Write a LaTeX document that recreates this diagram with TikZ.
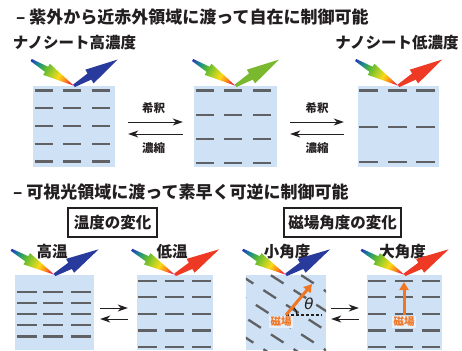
\documentclass[tikz,border=0pt]{standalone}
\usepackage{fontspec}
\setmainfont{Noto Sans CJK JP}
\newfontfamily\greekfont{DejaVu Sans}
\usetikzlibrary{arrows.meta,calc}

\definecolor{sheetbg}{RGB}{207,225,244}
\definecolor{sheet}{RGB}{96,97,100}
\definecolor{ink}{RGB}{35,31,32}
\definecolor{reflblue}{RGB}{40,58,155}
\definecolor{reflgreen}{RGB}{122,184,47}
\definecolor{reflred}{RGB}{238,58,36}
\definecolor{field}{RGB}{240,118,36}
\definecolor{labelbg}{RGB}{232,240,250}

% spectrum along the incoming light (tail = blue, tip = magenta)
\pgfdeclarehorizontalshading{spectrum}{100bp}{%
  rgb(0bp)=(0.16,0.22,0.72);
  rgb(25bp)=(0.16,0.22,0.72);
  rgb(33bp)=(0.10,0.55,0.55);
  rgb(41bp)=(0.35,0.72,0.20);
  rgb(50bp)=(0.70,0.82,0.15);
  rgb(57bp)=(0.98,0.85,0.10);
  rgb(64bp)=(1.00,0.55,0.10);
  rgb(70bp)=(0.95,0.20,0.20);
  rgb(75bp)=(0.90,0.20,0.80);
  rgb(100bp)=(0.90,0.20,0.80)}

\tikzset{
  sample/.style={fill=sheetbg, rectangle, inner sep=0pt},
  sheetline/.style={draw=sheet, line width=2.3pt},
  heading/.style={font=\fontsize{17}{20}\selectfont\bfseries, text=ink, inner sep=0pt},
  caption/.style={font=\fontsize{15.5}{18}\selectfont\bfseries, text=ink, inner sep=0pt},
  small/.style={font=\fontsize{11.5}{14}\selectfont\bfseries, text=ink, inner sep=0pt},
  framed/.style={draw=ink, line width=1.4pt, fill=white, inner sep=0pt,
    minimum height=29pt, font=\fontsize{15.5}{18}\selectfont\bfseries, text=ink},
  eqarrow/.style={draw=ink, line width=1pt, -{Stealth[length=10pt,width=7pt,inset=3pt]}},
  fieldarrow/.style={draw=field, line width=3pt, -{Triangle[length=8pt,width=9pt]}},
  fieldlabel/.style={font=\fontsize{10.5}{12}\selectfont\bfseries, text=field,
    fill=labelbg, inner sep=1.5pt},
}

% incoming white light, drawn along its own axis, tip at #1, heading #2 degrees
\newcommand\lightin[2]{%
  \begin{scope}[transform canvas={shift={(#1)}, rotate=#2}]
    \shade[shading=spectrum] (-50,1.2) -- (-32,3) -- (-32,6.5) -- (0,0)
      -- (-32,-6.5) -- (-32,-3) -- (-50,-1.2) -- cycle;
  \end{scope}}
% reflected light of colour #3 leaving #1 at #2 degrees
\newcommand\lightout[3]{%
  \begin{scope}[transform canvas={shift={(#1)}, rotate=#2}]
    \fill[#3] (0,1.5) -- (18,3.6) -- (18,8) -- (51,0) -- (18,-8)
      -- (18,-3.6) -- (0,-1.5) -- cycle;
  \end{scope}}

\begin{document}
\begin{tikzpicture}[x=1pt, y=-1pt]
\useasboundingbox (0,0) rectangle (462,350);

% ---------- upper panel: concentration ----------
\node[heading, anchor=west] (t1) at (16,17) {– 紫外から近赤外領域に渡って自在に制御可能};
\node[caption] (hi) at (74.5,42.5) {ナノシート高濃度};
\node[caption] (lo) at (397,42.5) {ナノシート低濃度};

\node[sample, minimum width=82pt, minimum height=81pt] (s1) at (74,126.5) {};
\node[sample, minimum width=83pt, minimum height=81pt] (s2) at (235.5,126.5) {};
\node[sample, minimum width=81pt, minimum height=81pt] (s3) at (398.5,126.5) {};

\foreach \r in {4.7,22.4,40.2,58,75.7}
  \foreach \c in {2,30,59}
    \draw[sheetline] ($(s1.north west)+(\c,\r)$) -- ++(18,0);
\foreach \r in {4.7,29,53,77}
  \foreach \c in {2.5,30.5,59.5}
    \draw[sheetline] ($(s2.north west)+(\c,\r)$) -- ++(18,0);
\foreach \r in {4.7,41,76}
  \foreach \c in {1.5,30,58.5}
    \draw[sheetline] ($(s3.north west)+(\c,\r)$) -- ++(19,0);

\coordinate (a1) at (s1.north);
\coordinate (a2) at (s2.north);
\coordinate (a3) at (s3.north);
\lightin{a1}{-31}\lightout{a1}{31}{reflblue}
\lightin{a2}{-31}\lightout{a2}{31}{reflgreen}
\lightin{a3}{-31}\lightout{a3}{31}{reflred}

\draw[eqarrow, shorten <=13pt, shorten >=11pt] ([yshift=4.5pt]s1.east) -- ([yshift=4.5pt]s2.west);
\draw[eqarrow, shorten <=11pt, shorten >=13pt] ([yshift=-7.5pt]s2.west) -- ([yshift=-7.5pt]s1.east);
\draw[eqarrow, shorten <=13pt, shorten >=14pt] ([yshift=4.5pt]s2.east) -- ([yshift=4.5pt]s3.west);
\draw[eqarrow, shorten <=14pt, shorten >=13pt] ([yshift=-7.5pt]s3.west) -- ([yshift=-7.5pt]s2.east);
\node[small] (d1) at (153.5,108) {希釈};
\node[small] (c1) at (153.5,148) {濃縮};
\node[small] (d2) at (317,108) {希釈};
\node[small] (c2) at (317,148) {濃縮};

% ---------- lower panel: temperature and field angle ----------
\node[heading, anchor=west] (t2) at (13,192.5) {– 可視光領域に渡って素早く可逆に制御可能};
\node[framed, minimum width=89pt] (ft) at (112.5,222.5) {温度の変化};
\node[framed, minimum width=117pt] (fm) at (342.5,222.5) {磁場角度の変化};

\node[caption] (hot) at (52,252) {高温};
\node[caption] (cold) at (172,252) {低温};
\node[caption] (sang) at (287,252) {小角度};
\node[caption] (lang) at (402.5,252) {大角度};

\node[sample, minimum width=79pt, minimum height=75pt] (b1) at (54.5,312.5) {};
\node[sample, minimum width=76pt, minimum height=75pt] (b2) at (175,312.5) {};
\node[sample, minimum width=80pt, minimum height=75pt] (b3) at (286,312.5) {};
\node[sample, minimum width=75pt, minimum height=75pt] (b4) at (404.5,312.5) {};

\foreach \r in {17,28,39,50.3,61.7}
  \foreach \c in {2,28.5,56}
    \draw[sheetline] ($(b1.north west)+(\c,\r)$) -- ++(20,0);
\foreach \r in {6,22.3,39,55.7,72.5}
  \foreach \c in {1.5,28,55}
    \draw[sheetline] ($(b2.north west)+(\c,\r)$) -- ++(19,0);
\foreach \r in {6,22.3,39,55.7,72.5}
  \foreach \c in {1.5,28,55}
    \draw[sheetline] ($(b4.north west)+(\c,\r)$) -- ++(18,0);

% tilted sheets, clipped to the sample
\begin{scope}
  \clip (b3.north west) rectangle (b3.south east);
  \foreach \k in {-6,...,5}
    \draw[sheetline, dash pattern=on 15pt off 12pt, dash phase=\k*9pt]
      ($(b3.north west)+(11,11)+(0,\k*19.7)$) ++(-84,-54.5) -- ++(168,109);
\end{scope}

\coordinate (a4) at (b1.north);
\coordinate (a5) at (b2.north);
\coordinate (a6) at (b3.north);
\coordinate (a7) at (b4.north);
\lightin{a4}{-30}\lightout{a4}{30}{reflblue}
\lightin{a5}{-30}\lightout{a5}{30}{reflred}
\lightin{a6}{-30}\lightout{a6}{30}{reflblue}
\lightin{a7}{-30}\lightout{a7}{30}{reflred}

\draw[eqarrow, shorten <=6pt, shorten >=9pt] ([yshift=4.5pt]b1.east) -- ([yshift=4.5pt]b2.west);
\draw[eqarrow, shorten <=9pt, shorten >=6pt] ([yshift=-6.5pt]b2.west) -- ([yshift=-6.5pt]b1.east);
\draw[eqarrow, shorten <=5pt, shorten >=8pt] ([yshift=4.5pt]b3.east) -- ([yshift=4.5pt]b4.west);
\draw[eqarrow, shorten <=8pt, shorten >=5pt] ([yshift=-6.5pt]b4.west) -- ([yshift=-6.5pt]b3.east);

% field direction, small angle
\coordinate (fo) at (286,315);
\coordinate (fa) at (312,284);
\coordinate (fr) at (322,315);
\node[fieldlabel] (fl1) at (281,322) {磁場};
\draw[ink, line width=1.4pt, dash pattern=on 3pt off 2pt] (fo) -- (fr);
\draw[ink, line width=1.2pt] ($(fo)+(11,0)$) arc[start angle=0, end angle=-50, radius=11];
\draw[fieldarrow] (fo) -- (fa);
\node[font=\fontsize{15}{16}\selectfont\greekfont\itshape, text=ink, inner sep=0pt] (th) at (309,304) {θ};

% field direction, large angle
\node[fieldlabel] (fl2) at (404,322) {磁場};
\coordinate (fb) at (404,282);
\draw[fieldarrow] (fl2.north) -- (fb);
\end{tikzpicture}
\end{document}
